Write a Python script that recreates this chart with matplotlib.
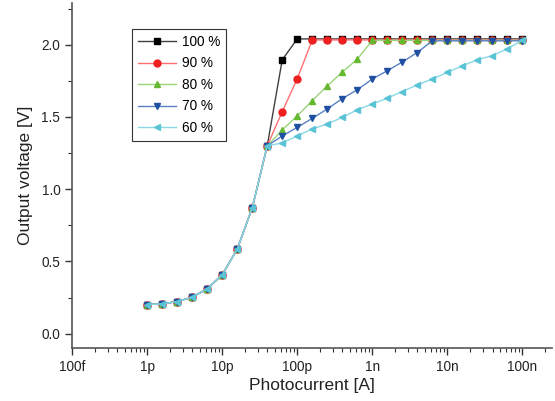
import matplotlib
matplotlib.use("Agg")
import matplotlib.pyplot as plt
import numpy as np

plt.rcParams['font.family'] = ['Liberation Sans', 'DejaVu Sans']

# photocurrent points: 5 per decade from 1p to 100n
exponents = [-12 + 0.2 * i for i in range(26)]
current = [10 ** e for e in exponents]

common = [0.201, 0.206, 0.222, 0.252, 0.31, 0.408, 0.585, 0.87, 1.30]

v100 = common + [1.896, 2.04] + [2.04] * 15
v90 = common + [1.537, 1.764] + [2.033] * 15
v80 = common + [1.41, 1.507, 1.613, 1.715, 1.81, 1.90] + [2.03] * 11
v70 = common + [1.368, 1.428, 1.49, 1.555, 1.627, 1.688, 1.762, 1.82, 1.88, 1.946] + [2.027] * 7
v60 = common + [1.32, 1.368, 1.417, 1.451, 1.497, 1.549, 1.59, 1.63, 1.676, 1.722,
                1.762, 1.808, 1.854, 1.896, 1.924, 1.972, 2.03]

labels = ["100 %", "90 %", "80 %", "70 %", "60 %"]
series = [v100, v90, v80, v70, v60]
markers = ["s", "o", "^", "v", "<"]
mcolors = ["#000000", "#ee2020", "#66b830", "#1f4fa0", "#5ac4d6"]
lcolors = ["#404040", "#ff7070", "#9ad47a", "#5a80c4", "#8ad8e6"]

fig = plt.figure(figsize=(5.55, 4.01), dpi=100)
ax = fig.add_axes([0.13, 0.132, 0.865, 0.861])

for v, lab, m, mc, lc in zip(series, labels, markers, mcolors, lcolors):
    ax.plot(current, v, color=lc, lw=1.0, marker=m, markersize=5,
            markerfacecolor=mc, markeredgecolor=mc, label=lab)

ax.set_xscale("log")
ax.set_xlim(1e-13, 2.5e-7)
ax.set_ylim(-0.1, 2.29)

xt = [1e-13, 1e-12, 1e-11, 1e-10, 1e-9, 1e-8, 1e-7]
xl = ["100f", "1p", "10p", "100p", "1n", "10n", "100n"]
ax.set_xticks(xt)
ax.set_xticklabels(xl)
ax.xaxis.set_minor_locator(matplotlib.ticker.LogLocator(base=10, subs=np.arange(2, 10), numticks=20))
ax.xaxis.set_minor_formatter(matplotlib.ticker.NullFormatter())
ax.set_yticks([0.0, 0.5, 1.0, 1.5, 2.0])
ax.set_yticklabels(["0.0", "0.5", "1.0", "1.5", "2.0"])
ax.yaxis.set_minor_locator(matplotlib.ticker.MultipleLocator(0.25))

for s in ["top", "right"]:
    ax.spines[s].set_visible(False)
for s in ["left", "bottom"]:
    ax.spines[s].set_color("#555555")
    ax.spines[s].set_linewidth(1.2)
ax.tick_params(which="major", direction="out", length=5, width=1.0, color="#333333",
               labelsize=9.8, labelcolor="#222222")
ax.tick_params(which="minor", direction="out", length=3, width=0.8, color="#333333")

ax.set_xlabel("Photocurrent [A]", fontsize=12.5, color="#222222", labelpad=3)
ax.set_ylabel("Output voltage [V]", fontsize=12.5, color="#222222", labelpad=6)

leg = ax.legend(loc="upper left", bbox_to_anchor=(0.125, 0.925), fontsize=9.8,
                fancybox=False, edgecolor="#333333", framealpha=1,
                handlelength=2.8, handletextpad=0.4, borderpad=0.45,
                labelspacing=0.55, borderaxespad=0)
leg.get_frame().set_linewidth(0.8)

fig.savefig("out.png", dpi=100)
